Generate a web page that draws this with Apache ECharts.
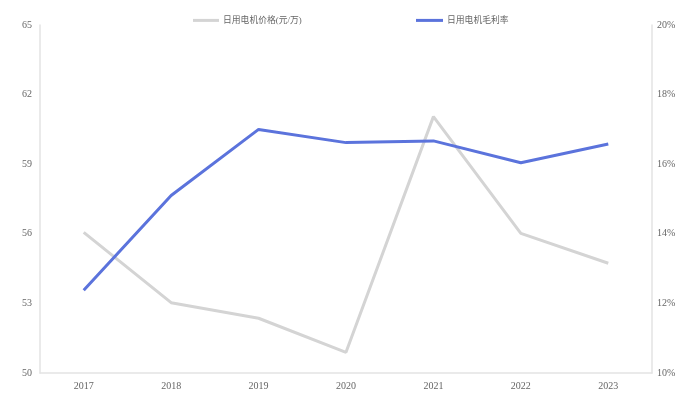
<!DOCTYPE html>
<html>
<head>
<meta charset="utf-8">
<script src="https://cdn.jsdelivr.net/npm/echarts@6/dist/echarts.min.js"></script>
<style>
  html, body { margin: 0; padding: 0; background: #fff; }
  #chart { width: 700px; height: 410px; }
</style>
</head>
<body>
<div id="chart"></div>
<script>
// 年份
var years = ['2017', '2018', '2019', '2020', '2021', '2022', '2023'];
// 日用电机价格(元/万)
var priceData = [56.06, 53.03, 52.36, 50.89, 61.05, 56.02, 54.73];
// 日用电机毛利率(%)
var marginData = [12.38, 15.1, 17.0, 16.62, 16.67, 16.04, 16.58];

var fontFam = '"Liberation Serif", "DejaVu Serif", "Noto Sans CJK SC", serif';
var axisLineColor = '#e3e3e3';
var labelColor = '#666';

var chart = echarts.init(document.getElementById('chart'));
chart.setOption({
  animation: false,
  textStyle: { fontFamily: fontFam },
  legend: [
    {
      data: ['日用电机价格(元/万)'],
      left: 188, top: 11,
      itemWidth: 26, itemHeight: 3, itemGap: 4,
      icon: 'rect',
      textStyle: { fontSize: 8.8, color: '#666', fontFamily: fontFam, padding: [0, 0, 0, -1] }
    },
    {
      data: ['日用电机毛利率'],
      left: 411, top: 11,
      itemWidth: 27, itemHeight: 3, itemGap: 4,
      icon: 'rect',
      textStyle: { fontSize: 8.8, color: '#666', fontFamily: fontFam, padding: [0, 0, 0, -1] }
    }
  ],
  grid: { left: 40, right: 48, top: 25, bottom: 37 },
  xAxis: {
    type: 'category',
    data: years,
    boundaryGap: true,
    axisLine: { lineStyle: { color: axisLineColor, width: 1.5 } },
    axisTick: { show: false },
    axisLabel: { color: labelColor, fontSize: 10, margin: 8 }
  },
  yAxis: [
    {
      type: 'value',
      min: 50, max: 65, interval: 3,
      axisLine: { show: true, lineStyle: { color: axisLineColor, width: 1.5 } },
      axisTick: { show: false },
      splitLine: { show: false },
      axisLabel: { color: labelColor, fontSize: 10, margin: 8 }
    },
    {
      type: 'value',
      min: 10, max: 20, interval: 2,
      position: 'right',
      axisLine: { show: true, lineStyle: { color: axisLineColor, width: 1.5 } },
      axisTick: { show: false },
      splitLine: { show: false },
      axisLabel: { color: labelColor, fontSize: 10, margin: 5, formatter: '{value}%' }
    }
  ],
  series: [
    {
      name: '日用电机价格(元/万)',
      type: 'line',
      data: priceData,
      yAxisIndex: 0,
      symbol: 'none',
      lineStyle: { color: '#d4d4d4', width: 3 },
      itemStyle: { color: '#d4d4d4' }
    },
    {
      name: '日用电机毛利率',
      type: 'line',
      data: marginData,
      yAxisIndex: 1,
      symbol: 'none',
      lineStyle: { color: '#5b73dc', width: 3 },
      itemStyle: { color: '#5b73dc' }
    }
  ]
});
</script>
</body>
</html>
